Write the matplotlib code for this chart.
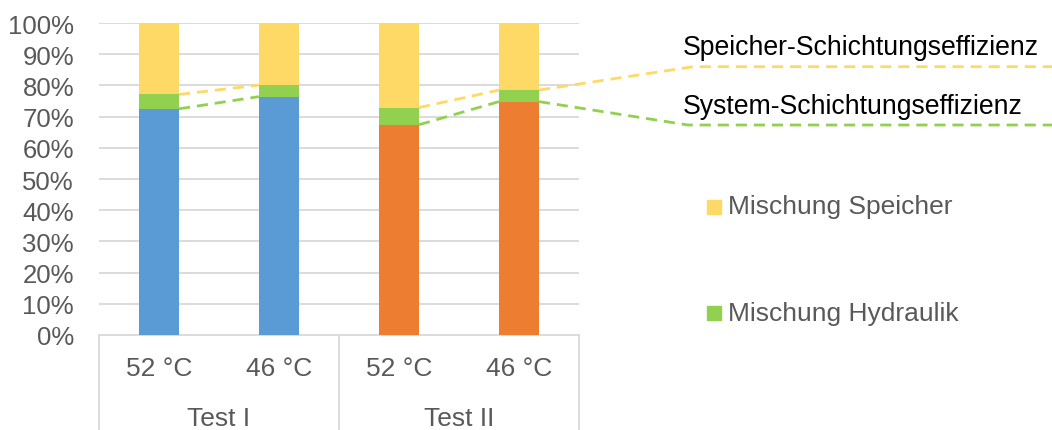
import matplotlib
matplotlib.use("Agg")
import matplotlib.pyplot as plt
from matplotlib.lines import Line2D
import numpy as np

# Data
categories = ['52 °C', '46 °C', '52 °C', '46 °C']
groups = ['Test I', 'Test II']
group_of = [0, 0, 1, 1]
basis = [0.725, 0.764, 0.674, 0.748]
mischung_hydraulik = [0.046, 0.037, 0.055, 0.037]
mischung_speicher = [0.229, 0.199, 0.271, 0.215]

basis_colors = ['#5B9BD5', '#ED7D31']
c_hydraulik = '#92D050'
c_speicher = '#FFD966'
c_text = '#595959'
c_grid = '#D9D9D9'

plt.rcParams['font.family'] = ['Liberation Sans', 'DejaVu Sans']

W, H = 1052, 431
fig = plt.figure(figsize=(W / 100, H / 100), dpi=100)
ax = fig.add_axes([99 / W, (H - 336) / H, 480 / W, 312 / H])

x = np.arange(len(categories))
bw = 1 / 3
base_cols = [basis_colors[g] for g in group_of]
bottom2 = np.array(basis) + np.array(mischung_hydraulik)

ax.bar(x, basis, bw, color=base_cols, zorder=3)
ax.bar(x, mischung_hydraulik, bw, bottom=basis, color=c_hydraulik, zorder=3,
       label='Mischung Hydraulik')
ax.bar(x, mischung_speicher, bw, bottom=bottom2, color=c_speicher, zorder=3,
       label='Mischung Speicher')

# series lines within each group
dash = (4, 2.5)
for g in range(len(groups)):
    idx = [i for i in range(len(categories)) if group_of[i] == g]
    for a, b in zip(idx[:-1], idx[1:]):
        ax.plot([a + bw / 2, b - bw / 2], [bottom2[a], bottom2[b]], color=c_speicher,
                lw=2, ls=(0, dash), zorder=4)
        ax.plot([a + bw / 2, b - bw / 2], [basis[a], basis[b]], color=c_hydraulik,
                lw=2, ls=(0, dash), zorder=4)

ax.set_xlim(-0.5, len(categories) - 0.5)
ax.set_ylim(0, 1)
ax.set_yticks(np.arange(0, 1.01, 0.1))
ax.set_yticklabels([f'{int(round(v * 100))}%' for v in np.arange(0, 1.01, 0.1)])
ax.tick_params(axis='y', length=0, pad=18, labelsize=18.5, labelcolor=c_text)
ax.set_xticks([])
for v in np.arange(0.1, 1.01, 0.1):
    ax.axhline(v, color=c_grid, lw=1.3, zorder=1)
for s in ['top', 'right', 'left']:
    ax.spines[s].set_visible(False)
ax.spines['bottom'].set_color(c_grid)
ax.spines['bottom'].set_linewidth(1.3)

# multi-level category axis
depth = (431 - 336) / 312
for i, c in enumerate(categories):
    ax.text(i, -33 / 312, c, ha='center', va='center', fontsize=19, color=c_text,
            transform=ax.get_xaxis_transform())
for g, name in enumerate(groups):
    idx = [i for i in range(len(categories)) if group_of[i] == g]
    ax.text(np.mean(idx), -83 / 312, name, ha='center', va='center', fontsize=19,
            color=c_text, transform=ax.get_xaxis_transform())
for xs in [-0.5, 1.5, 3.5]:
    ax.plot([xs, xs], [0, -depth], color=c_grid, lw=1.3, clip_on=False,
            transform=ax.get_xaxis_transform())

# lead lines to the annotations
to_fig = fig.transFigure.inverted()
last = len(categories) - 1
lead = [
    (bottom2[last], c_speicher, (693, 67.7), 'Speicher-Schichtungseffizienz', 48),
    (basis[last], c_hydraulik, (688, 126), 'System-Schichtungseffizienz', 107),
]
for val, col, knee, label, ty in lead:
    p0 = to_fig.transform(ax.transData.transform((last + bw / 2, val)))
    k = (knee[0] / W, 1 - knee[1] / H)
    fig.add_artist(Line2D([p0[0], k[0], 1.0], [p0[1], k[1], k[1]], color=col,
                          lw=2, ls=(0, dash)))
    fig.text(683 / W, 1 - ty / H, label, ha='left', va='center', fontsize=19.2,
             color='black')

# legend entries
handles, labels = ax.get_legend_handles_labels()
for h, l, ty in zip(handles[::-1], labels[::-1], [207.5, 313.5]):
    fig.patches.append(plt.Rectangle((707 / W, 1 - (ty + 7) / H), 14 / W, 14 / H,
                                     color=h.patches[0].get_facecolor(),
                                     transform=fig.transFigure))
    fig.text(728 / W, 1 - ty / H, l, ha='left', va='center', fontsize=19,
             color=c_text)

fig.savefig('out.png', dpi=100, facecolor='white')
